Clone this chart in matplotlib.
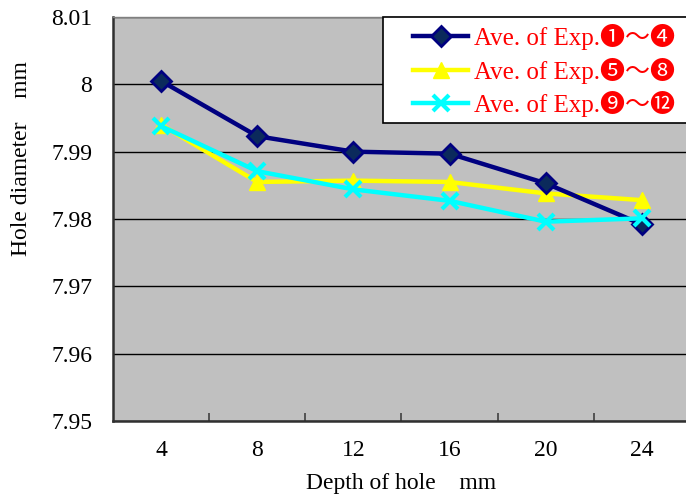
import matplotlib
matplotlib.use("Agg")
import matplotlib.pyplot as plt
from matplotlib.patches import Rectangle
from matplotlib.ticker import FixedLocator, FuncFormatter

depths = ["4", "8", "12", "16", "20", "24"]
ave_1_4 = [8.0005, 7.9923, 7.9900, 7.9897, 7.9853, 7.9792]
ave_5_8 = [7.9940, 7.9855, 7.9857, 7.9855, 7.9838, 7.9828]
ave_9_12 = [7.9938, 7.9871, 7.9844, 7.9827, 7.9796, 7.9801]
labels = ["Ave. of Exp.❶～❹", "Ave. of Exp.❺～❽", "Ave. of Exp.❾～⓬"]

serif = ["Liberation Serif", "Noto Sans CJK JP", "DejaVu Sans"]
plt.rcParams["font.family"] = serif

fig = plt.figure(figsize=(6.86, 4.97), dpi=100)
ax = fig.add_axes([113 / 686, (497 - 421) / 497, 577 / 686, 404 / 497])
ax.set_facecolor("#C0C0C0")

x = list(range(len(depths)))
ax.plot(x, ave_1_4, color="#000080", lw=3.2, marker="D", ms=10,
        mfc="#0B2A5C", mec="#000080", mew=2, label=labels[0], zorder=5)
ax.plot(x, ave_5_8, color="#FFFF00", lw=3.2, marker="^", ms=12,
        mfc="#FFFF00", mec="#FFFF00", label=labels[1], zorder=4)
ax.plot(x, ave_9_12, color="#00FFFF", lw=3.2, marker="x", ms=11,
        mew=3, label=labels[2], zorder=6)

ax.set_xlim(-0.5, len(depths) - 0.5)
ax.set_ylim(7.95, 8.01)
ax.set_yticks([7.95, 7.96, 7.97, 7.98, 7.99, 8.0, 8.01])
ax.yaxis.set_major_formatter(FuncFormatter(lambda v, p: f"{v:g}"))
ax.grid(axis="y", color="black", lw=1)
ax.set_axisbelow(True)

# category ticks between categories, labels at centres
ax.xaxis.set_major_locator(FixedLocator([i + 0.5 for i in range(len(depths) - 1)]))
ax.xaxis.set_minor_locator(FixedLocator(x))
ax.set_xticklabels([""] * (len(depths) - 1))
ax.set_xticklabels(depths, minor=True)
ax.tick_params(axis="x", which="major", direction="in", length=6, width=1.2, color="#404040")
ax.tick_params(axis="x", which="minor", length=0, pad=14, labelsize=17)
ax.tick_params(axis="y", length=0, pad=15, labelsize=17)

for s in ["top", "right"]:
    ax.spines[s].set_color("#808080")
    ax.spines[s].set_linewidth(1)
for s in ["left", "bottom"]:
    ax.spines[s].set_color("#303030")
    ax.spines[s].set_linewidth(1.8)

ax.set_xlabel("Depth of hole　mm", fontsize=17, labelpad=8)
ax.set_ylabel("Hole diameter　mm", fontsize=17, labelpad=14, y=0.65)

# legend box (white, runs off the right edge like the original)
box = Rectangle((383 / 686, 1 - 123 / 497), 320 / 686, 106 / 497,
                transform=fig.transFigure, facecolor="white",
                edgecolor="black", lw=1.2, zorder=10, clip_on=False)
ax.add_patch(box)
leg = ax.legend(loc="upper left", bbox_to_anchor=(413 / 686, 1 - 24 / 497),
                bbox_transform=fig.transFigure, frameon=False,
                borderpad=0, handlelength=2.2, handletextpad=0.25,
                labelspacing=0.3, borderaxespad=0,
                prop={"family": serif, "size": 18})
leg.set_zorder(11)
for t in leg.get_texts():
    t.set_color("red")

fig.savefig("out.png", dpi=100)
